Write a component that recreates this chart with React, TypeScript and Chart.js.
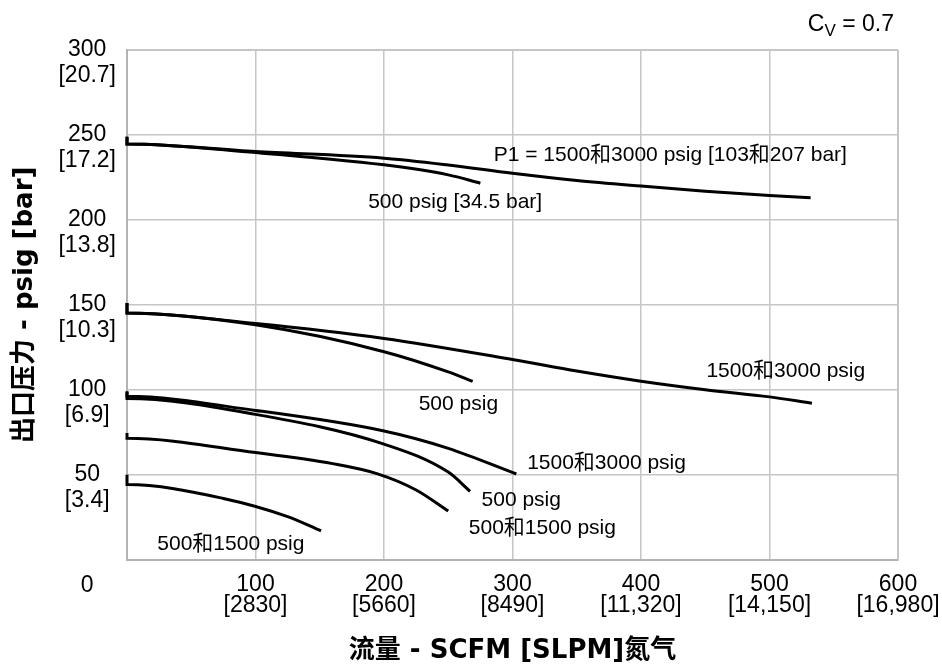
import React, { useEffect, useRef } from "react";
import { Chart, registerables } from "chart.js";

Chart.register(...registerables);

// ---- axis ticks ----
const xTickValues = [0, 100, 200, 300, 400, 500, 600];
const xTickSlpm = ["", "2830", "5660", "8490", "11,320", "14,150", "16,980"];
const yTickValues = [0, 50, 100, 150, 200, 250, 300];
const yTickBar = ["", "3.4", "6.9", "10.3", "13.8", "17.2", "20.7"];

// ---- curves (x = SCFM, y = outlet psig) ----
const top3000X = [0, 0, 100, 200, 250, 300, 350, 400, 450, 500, 532];
const top3000Y = [249, 244.7, 240.2, 236.3, 232.3, 227.4, 223.2, 219.9, 216.9, 214.4, 213.0];
const top500X = [0, 0, 100, 200, 250, 275];
const top500Y = [249, 244.7, 239.6, 232.4, 226.5, 221.6];

const mid3000X = [0, 0, 100, 200, 300, 350, 400, 450, 500, 533];
const mid3000Y = [151, 145.2, 139.0, 130.2, 117.8, 111.0, 105.0, 100.0, 95.8, 92.1];
const mid500X = [0, 0, 100, 200, 250, 269];
const mid500Y = [151, 145.2, 138.2, 122.4, 110.5, 104.9];

const low3000X = [0, 0, 100, 200, 250, 303];
const low3000Y = [99, 96.1, 87.8, 75.7, 65.5, 50.4];
const low500X = [0, 0, 100, 200, 250, 267];
const low500Y = [99, 94.8, 85.5, 68.0, 51.5, 40.2];
const low1500X = [0, 0, 100, 160, 195, 225, 250];
const low1500Y = [74.5, 71.4, 63.0, 56.5, 50.5, 41.0, 28.6];
const bottomX = [0, 0, 75, 125, 151];
const bottomY = [50, 44.2, 36.0, 25.3, 16.9];

// ---- curve annotations (anchor in data units: left edge, vertical middle) ----
const labelTexts = [
  "P1 = 1500和3000 psig [103和207 bar]",
  "500 psig [34.5 bar]",
  "1500和3000 psig",
  "500 psig",
  "1500和3000 psig",
  "500 psig",
  "500和1500 psig",
  "500和1500 psig",
];
const labelX = [285.4, 187.7, 450.9, 227, 311.4, 275.9, 266, 23.6];
const labelY = [238.3, 210.5, 111.2, 91.3, 56.6, 34.8, 18.6, 8.9];

const xTitle = "流量 - SCFM [SLPM]氮气";
const yTitle = "出口压力 - psig [bar]";

const TICK_FONT = '"Liberation Sans", Arial, "Noto Sans CJK SC", sans-serif';
const TITLE_FONT = '"DejaVu Sans", "Noto Sans CJK SC", sans-serif';

function pts(xs: number[], ys: number[]) {
  return xs.map((x, i) => ({ x, y: ys[i] }));
}

const annotationPlugin = {
  id: "curveLabels",
  afterDatasetsDraw(chart: any) {
    const { ctx, chartArea } = chart;
    const xs = chart.scales.x;
    const ys = chart.scales.y;
    ctx.save();
    ctx.fillStyle = "#000";
    ctx.font = "21px " + TICK_FONT;
    ctx.textBaseline = "middle";
    ctx.textAlign = "left";
    labelTexts.forEach((t, i) => {
      ctx.fillText(t, xs.getPixelForValue(labelX[i]), ys.getPixelForValue(labelY[i]));
    });
    // C_V = 0.7
    ctx.textBaseline = "alphabetic";
    const big = "23px " + TICK_FONT;
    const small = "17px " + TICK_FONT;
    ctx.font = big;
    const wC = ctx.measureText("C").width;
    const wRest = ctx.measureText(" = 0.7").width;
    ctx.font = small;
    const wV = ctx.measureText("V").width;
    const right = chartArea.right - 4;
    const base = chartArea.top - 19;
    let x0 = right - (wC + wV + wRest);
    ctx.font = big;
    ctx.fillText("C", x0, base);
    x0 += wC;
    ctx.font = small;
    ctx.fillText("V", x0, base + 5);
    x0 += wV;
    ctx.font = big;
    ctx.fillText(" = 0.7", x0, base);
    ctx.restore();
  },
};

export default function App() {
  const ref = useRef<HTMLCanvasElement | null>(null);
  useEffect(() => {
    if (!ref.current) return;
    const mk = (xs: number[], ys: number[]) => ({
      data: pts(xs, ys),
      borderColor: "#000",
      borderWidth: 3,
      pointRadius: 0,
      fill: false,
      cubicInterpolationMode: "monotone" as const,
      clip: false as const,
    });
    const chart = new Chart(ref.current, {
      type: "line",
      data: {
        datasets: [
          mk(top3000X, top3000Y),
          mk(top500X, top500Y),
          mk(mid3000X, mid3000Y),
          mk(mid500X, mid500Y),
          mk(low3000X, low3000Y),
          mk(low500X, low500Y),
          mk(low1500X, low1500Y),
          mk(bottomX, bottomY),
        ],
      },
      options: {
        animation: false,
        responsive: false,
        events: [],
        layout: { padding: { top: 45, right: 44, left: 0, bottom: 0 } },
        plugins: { legend: { display: false }, tooltip: { enabled: false } },
        scales: {
          x: {
            type: "linear",
            min: 0,
            max: 600,
            afterBuildTicks: (scale: any) => {
              scale.ticks = xTickValues.map((v) => ({ value: v }));
            },
            afterFit: (scale: any) => {
              scale.height = 669 - 559.6;
              scale.paddingRight = 0;
              scale.paddingLeft = 0;
            },
            grid: {
              color: "#c6c6c6",
              lineWidth: (c: any) => (c.tick && c.tick.value === 600 ? 2 : 1.5),
              drawTicks: false,
            },
            border: { display: true, color: "#b3b3b3", width: 2 },
            ticks: {
              autoSkip: false,
              maxRotation: 0,
              padding: 15,
              color: "#000",
              font: { family: TICK_FONT, size: 23, lineHeight: "21px" },
              callback: (v: any) => {
                const i = xTickValues.indexOf(Number(v));
                if (i <= 0) return "";
                return [String(v), "[" + xTickSlpm[i] + "]"];
              },
            },
            title: {
              display: true,
              text: xTitle,
              color: "#000",
              font: { family: TITLE_FONT, size: 26, weight: "bold", lineHeight: 1.2 },
              padding: { top: 0, bottom: 2 },
            },
          },
          y: {
            type: "linear",
            min: 0,
            max: 300,
            afterBuildTicks: (scale: any) => {
              scale.ticks = yTickValues.map((v) => ({ value: v }));
            },
            afterFit: (scale: any) => {
              scale.width = 127;
            },
            grid: {
              color: "#c6c6c6",
              lineWidth: (c: any) => (c.tick && c.tick.value === 300 ? 2 : 1.5),
              drawTicks: false,
            },
            border: { display: true, color: "#b3b3b3", width: 2 },
            ticks: {
              autoSkip: false,
              padding: 11,
              crossAlign: "center",
              color: "#000",
              font: { family: TICK_FONT, size: 23, lineHeight: "26px" },
              callback: (v: any) => {
                const i = yTickValues.indexOf(Number(v));
                if (i === 0) return ["", "", "0"];
                if (i < 0) return "";
                return ["", String(v), "[" + yTickBar[i] + "]"];
              },
            },
            title: {
              display: true,
              text: yTitle,
              color: "#000",
              font: { family: TITLE_FONT, size: 26, weight: "bold", lineHeight: 1.2 },
              padding: { top: 10, bottom: 0 },
            },
          },
        },
      },
      plugins: [annotationPlugin],
    });
    return () => chart.destroy();
  }, []);
  return (
    <div style={{ position: "fixed", left: 0, top: 0, width: 942, height: 669, background: "#fff" }}>
      <canvas ref={ref} width={942} height={669} style={{ display: "block" }} />
    </div>
  );
}
